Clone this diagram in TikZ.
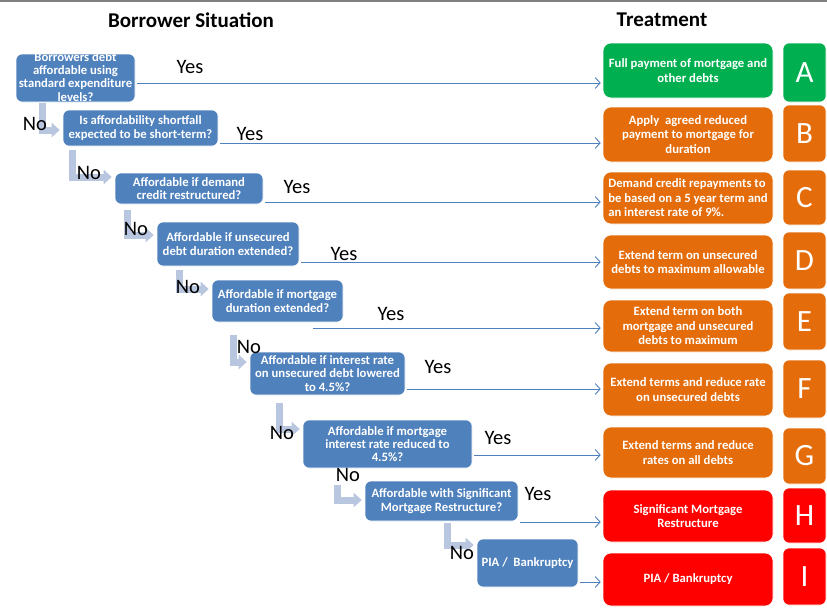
\documentclass[tikz,border=0pt]{standalone}
\usepackage{fontspec}
\setmainfont{Carlito}
\usetikzlibrary{arrows.meta}

\definecolor{qblue}{RGB}{79,129,189}
\definecolor{tgreen}{RGB}{0,176,80}
\definecolor{torange}{RGB}{228,108,10}
\definecolor{tred}{RGB}{255,0,0}
\definecolor{nogray}{RGB}{185,198,223}
\definecolor{rulegray}{RGB}{128,128,128}

\tikzset{
  qbox/.style={draw=white, line width=0.6pt, fill=qblue, rounded corners=6pt,
    inner sep=0pt, text=white, align=center,
    font=\fontsize{12.7}{13.3}\selectfont\bfseries},
  tbox/.style={draw=white, line width=0.6pt, rounded corners=8pt, inner sep=0pt,
    minimum width=170pt, text=white, align=center,
    font=\fontsize{12.7}{14.5}\selectfont\bfseries},
  lbox/.style={draw=white, line width=0.6pt, rounded corners=6pt, inner sep=0pt,
    minimum width=43pt, text=white, font=\fontsize{31}{31}\selectfont},
  yesline/.style={qblue, line width=0.9pt, -{Straight Barb[length=5pt,width=11pt]},
    shorten >=2pt},
  noline/.style={nogray, line width=7pt, -{Triangle[length=8pt,width=14pt]},
    shorten >=3pt},
  answer/.style={inner sep=0pt, font=\fontsize{20.5}{20.5}\selectfont},
  heading/.style={inner sep=0pt, font=\fontsize{21}{21}\selectfont\bfseries}
}

\begin{document}
\begin{tikzpicture}[x=1pt,y=-1pt]
  \useasboundingbox (0,0) rectangle (827,608);
  \draw[rulegray, line width=2.5pt] (0,1) -- (827,1);

  % headings
  \node[heading] (hborrow) at (191,20) {Borrower Situation};
  \node[heading] (htreat) at (662,20) {Treatment};

  % borrower situation
  \node[qbox, minimum width=119pt, minimum height=48pt] (q1) at (75.5,78)
    {\smash{\raisebox{-3.5pt}{\begin{tabular}{@{}c@{}}Borrowers debt\\affordable using\\standard expenditure\\levels?\end{tabular}}}};
  \node[qbox, minimum width=155pt, minimum height=36pt] (q2) at (140.5,128)
    {Is affordability shortfall\\expected to be short-term?};
  \node[qbox, minimum width=148pt, minimum height=31pt] (q3) at (189,188.5)
    {Affordable if demand\\credit restructured?};
  \node[qbox, minimum width=142pt, minimum height=44pt] (q4) at (228,244)
    {Affordable if unsecured\\debt duration extended?};
  \node[qbox, minimum width=131pt, minimum height=42pt] (q5) at (277.5,301)
    {Affordable if mortgage\\duration extended?};
  \node[qbox, minimum width=155pt, minimum height=43pt] (q6) at (327.5,373.5)
    {Affordable if interest rate\\on unsecured debt lowered\\to 4.5\%?};
  \node[qbox, minimum width=169pt, minimum height=48pt] (q7) at (387.5,444)
    {Affordable if mortgage\\interest rate reduced to\\4.5\%?};
  \node[qbox, minimum width=153pt, minimum height=40pt] (q8) at (441.5,501)
    {Affordable with Significant\\Mortgage Restructure?};
  \node[qbox, minimum width=101pt, minimum height=48pt] (q9) at (527.5,563)
    {PIA /\ \ Bankruptcy};

  % treatment
  \node[tbox, fill=tgreen, minimum height=55pt] (ta) at (688,70.5)
    {Full payment of mortgage and\\other debts};
  \node[tbox, fill=torange, minimum height=55pt] (tb) at (688,134.5)
    {Apply\ \ agreed reduced\\payment to mortgage for\\duration};
  \node[tbox, fill=torange, minimum height=52pt, align=left] (tc) at (688,198)
    {Demand credit repayments to\\be based on a 5 year term and\\an interest rate of 9\%.};
  \node[tbox, fill=torange, minimum height=54pt] (td) at (688,262)
    {Extend term on unsecured\\debts to maximum allowable};
  \node[tbox, fill=torange, minimum height=52pt] (te) at (688,326)
    {Extend term on both\\mortgage and unsecured\\debts to maximum};
  \node[tbox, fill=torange, minimum height=53pt] (tf) at (688,389.5)
    {Extend terms and reduce rate\\on unsecured debts};
  \node[tbox, fill=torange, minimum height=51pt] (tg) at (688,452.5)
    {Extend terms and reduce\\rates on all debts};
  \node[tbox, fill=tred, minimum height=52pt] (th) at (688,516)
    {Significant Mortgage\\Restructure};
  \node[tbox, fill=tred, minimum height=53pt] (ti) at (688,579.5)
    {PIA / Bankruptcy};

  \foreach \l/\y/\h/\c in {A/72.5/59/tgreen, B/133.5/57/torange, C/197.5/55/torange,
      D/260.5/57/torange, E/321.5/57/torange, F/389/58/torange, G/456/56/torange,
      H/515.5/55/tred, I/576.5/57/tred}
    \node[lbox, fill=\c, minimum height=\h*1pt] (l\l) at (804.5,\y) {\l};

  % yes
  \foreach \q/\t/\y in {q1/ta/83, q2/tb/143, q3/tc/202, q4/td/262, q6/tf/389,
      q7/tg/455, q8/th/522, q9/ti/582}
    \draw[yesline, shorten <=2pt] (\q.east |- 0,\y) -- (\t.west |- 0,\y);
  \draw[yesline] ([xshift=-30pt]q5.east |- 0,328) -- (te.west |- 0,328);

  % no
  \foreach \s/\x/\g/\d/\y in {q1/42/1pt/q2/130, q2/72/4pt/q3/177, q3/127/6pt/q4/235,
      q4/179/4pt/q5/289, q5/233/13pt/q6/362, q6/279/8pt/q7/429,
      q7/337/17pt/q8/500, q8/447/2pt/q9/545}
    \draw[noline, shorten <=\g] (\s.south -| \x,0) |- (\d.west |- 0,\y);

  \foreach \x/\y in {190/67, 250/134, 297/187, 344/254, 391/314, 438/367,
      498/438, 538/494}
    \node[answer] at (\x,\y) {Yes};
  \foreach \x/\y in {35/124, 89/173, 136/229, 188/287, 249/347, 282/433,
      348/475, 462/553}
    \node[answer] at (\x,\y) {No};
\end{tikzpicture}
\end{document}
